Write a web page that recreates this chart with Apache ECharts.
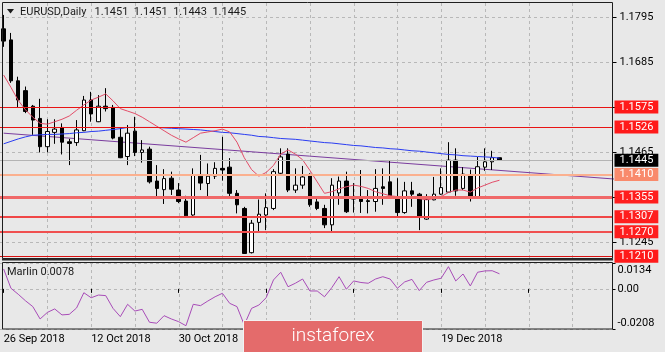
<!DOCTYPE html>
<html><head><meta charset="utf-8">
<script src="https://cdn.jsdelivr.net/npm/echarts@6/dist/echarts.min.js"></script>
<style>html,body{margin:0;padding:0;background:#e8e8e8;}#c{width:665px;height:352px;}</style>
</head><body><div id="c"></div>
<script>
// ---------- data ----------
const dates = ['26 Sep 2018','27 Sep 2018','28 Sep 2018','1 Oct 2018','2 Oct 2018','3 Oct 2018','4 Oct 2018','5 Oct 2018','8 Oct 2018','9 Oct 2018','10 Oct 2018','11 Oct 2018','12 Oct 2018','15 Oct 2018','16 Oct 2018','17 Oct 2018','18 Oct 2018','19 Oct 2018','22 Oct 2018','23 Oct 2018','24 Oct 2018','25 Oct 2018','26 Oct 2018','29 Oct 2018','30 Oct 2018','31 Oct 2018','1 Nov 2018','2 Nov 2018','5 Nov 2018','6 Nov 2018','7 Nov 2018','8 Nov 2018','9 Nov 2018','12 Nov 2018','13 Nov 2018','14 Nov 2018','15 Nov 2018','16 Nov 2018','19 Nov 2018','20 Nov 2018','21 Nov 2018','22 Nov 2018','23 Nov 2018','26 Nov 2018','27 Nov 2018','28 Nov 2018','29 Nov 2018','30 Nov 2018','3 Dec 2018','4 Dec 2018','5 Dec 2018','6 Dec 2018','7 Dec 2018','10 Dec 2018','11 Dec 2018','12 Dec 2018','13 Dec 2018','14 Dec 2018','17 Dec 2018','18 Dec 2018','19 Dec 2018','20 Dec 2018','21 Dec 2018','24 Dec 2018','26 Dec 2018','27 Dec 2018','28 Dec 2018','31 Dec 2018','2 Jan 2019'];
const futureSlots = 15;

const opens = [1.1766,1.1739,1.1639,1.1615,1.1577,1.1547,1.1478,1.1513,1.1525,1.1490,1.1488,1.1517,1.1592,1.1539,1.1577,1.1574,1.1501,1.1454,1.1516,1.1464,1.1472,1.1394,1.1373,1.1401,1.1372,1.1345,1.1311,1.1406,1.1388,1.1406,1.1425,1.1428,1.1364,1.1327,1.1219,1.1293,1.1311,1.1327,1.1413,1.1460,1.1372,1.1384,1.1408,1.1343,1.1327,1.1287,1.1365,1.1394,1.1350,1.1355,1.1346,1.1344,1.1380,1.1392,1.1354,1.1317,1.1370,1.1362,1.1301,1.1348,1.1362,1.1367,1.1445,1.1376,1.1410,1.1352,1.1428,1.1441,1.1451];
const highs = [1.1800,1.1756,1.1649,1.1625,1.1580,1.1595,1.1545,1.1545,1.1535,1.1497,1.1543,1.1602,1.1612,1.1604,1.1621,1.1580,1.1525,1.1531,1.1551,1.1494,1.1478,1.1433,1.1423,1.1417,1.1389,1.1358,1.1425,1.1458,1.1437,1.1440,1.1502,1.1450,1.1372,1.1331,1.1299,1.1349,1.1364,1.1423,1.1474,1.1474,1.1425,1.1431,1.1413,1.1352,1.1336,1.1401,1.1405,1.1417,1.1389,1.1421,1.1372,1.1423,1.1425,1.1445,1.1401,1.1392,1.1392,1.1365,1.1362,1.1404,1.1425,1.1489,1.1474,1.1428,1.1422,1.1453,1.1474,1.1468,1.1451];
const lows = [1.1722,1.1634,1.1574,1.1560,1.1507,1.1464,1.1464,1.1485,1.1459,1.1433,1.1480,1.1516,1.1539,1.1538,1.1564,1.1496,1.1450,1.1433,1.1455,1.1439,1.1388,1.1356,1.1338,1.1360,1.1340,1.1304,1.1309,1.1372,1.1354,1.1399,1.1395,1.1352,1.1315,1.1216,1.1217,1.1270,1.1274,1.1323,1.1409,1.1367,1.1365,1.1375,1.1331,1.1323,1.1279,1.1267,1.1336,1.1316,1.1317,1.1316,1.1315,1.1319,1.1336,1.1352,1.1307,1.1314,1.1331,1.1274,1.1299,1.1347,1.1360,1.1365,1.1358,1.1372,1.1344,1.1351,1.1419,1.1421,1.1443];
const closes = [1.1736,1.1639,1.1592,1.1564,1.1543,1.1478,1.1515,1.1521,1.1489,1.1486,1.1519,1.1592,1.1558,1.1577,1.1571,1.1499,1.1451,1.1511,1.1464,1.1470,1.1392,1.1376,1.1400,1.1374,1.1344,1.1309,1.1409,1.1389,1.1406,1.1425,1.1421,1.1364,1.1336,1.1217,1.1291,1.1313,1.1329,1.1417,1.1453,1.1372,1.1384,1.1404,1.1336,1.1327,1.1287,1.1384,1.1394,1.1319,1.1353,1.1344,1.1344,1.1376,1.1376,1.1354,1.1317,1.1370,1.1362,1.1305,1.1349,1.1362,1.1378,1.1445,1.1370,1.1411,1.1353,1.1429,1.1441,1.1451,1.1445];

const maRed = [1.1653,1.1623,1.1591,1.1568,1.1550,1.1535,1.1533,1.1539,1.1545,1.1553,1.1567,1.1580,1.1592,1.1599,1.1607,1.1590,1.1571,1.1565,1.1559,1.1550,1.1539,1.1528,1.1517,1.1506,1.1497,1.1489,1.1500,1.1511,1.1514,1.1517,1.1521,1.1514,1.1489,1.1451,1.1422,1.1406,1.1415,1.1432,1.1460,1.1470,1.1460,1.1446,1.1420,1.1392,1.1364,1.1368,1.1375,1.1380,1.1384,1.1381,1.1376,1.1368,1.1363,1.1358,1.1356,1.1356,1.1353,1.1351,1.1348,1.1351,1.1356,1.1366,1.1372,1.1372,1.1367,1.1377,1.1384,1.1391,1.1396];
const maBlue = [1.1485,1.1491,1.1497,1.1502,1.1506,1.1507,1.1508,1.1508,1.1509,1.1510,1.1512,1.1513,1.1515,1.1516,1.1518,1.1520,1.1522,1.1525,1.1525,1.1525,1.1525,1.1525,1.1524,1.1523,1.1522,1.1521,1.1520,1.1519,1.1517,1.1515,1.1513,1.1512,1.1510,1.1508,1.1506,1.1503,1.1502,1.1500,1.1498,1.1497,1.1496,1.1494,1.1492,1.1490,1.1488,1.1487,1.1485,1.1483,1.1481,1.1480,1.1478,1.1476,1.1475,1.1473,1.1472,1.1470,1.1468,1.1467,1.1465,1.1463,1.1461,1.1459,1.1458,1.1456,1.1455,1.1454,1.1453,1.1452,1.1450];

const trendIndex = [0, 84];
const trendValue = [1.1511, 1.13986];

const marlin = [0.0103,0.0003,-0.0028,-0.0062,-0.0092,-0.0156,-0.0122,-0.0104,-0.0135,-0.0132,-0.0099,-0.0020,-0.0046,-0.0032,-0.0035,-0.0101,-0.0144,-0.0080,-0.0115,-0.0106,-0.0173,-0.0178,-0.0139,-0.0156,-0.0170,-0.0191,-0.0080,-0.0087,-0.0063,-0.0041,-0.0023,-0.0075,-0.0092,-0.0187,-0.0101,-0.0084,-0.0046,0.0046,0.0086,0.0011,0.0029,0.0051,-0.0011,-0.0011,-0.0041,0.0006,0.0063,-0.0002,0.0041,0.0033,0.0029,0.0051,0.0063,0.0051,0.0003,0.0036,0.0049,-0.0009,0.0034,0.0046,0.0055,0.0115,0.0041,0.0077,0.0015,0.0086,0.0093,0.0094,0.0078];

const priceTicks = [1.1245, 1.1355, 1.1465, 1.1575, 1.1685, 1.1795];
const priceMin = 1.12035, priceMax = 1.18316;
const marlinTicks = [-0.0208, 0, 0.0134];
const levelValues = [1.1575, 1.1526, 1.1410, 1.1355, 1.1307, 1.1270, 1.1210];
const lastPrice = 1.1445;
const titleSymbol = 'EURUSD,Daily';
const titleVals = [1.1451, 1.1451, 1.1443, 1.1445];
const indicatorName = 'Marlin';
const watermarkText = 'instaforex';
const vGridEvery = 6;
const dateLabelEvery = 12;

// ---------- styles ----------
const FONT = 'Roboto';
const levelStyles = [
  {line:'#e81414', w:1, bg:'#ff1a1a'},
  {line:'#e81414', w:1, bg:'#ff1a1a'},
  {line:'#fbb08f', w:2, bg:'#f98a6c'},
  {line:'#f06868', w:3, bg:'#ff1e1e'},
  {line:'#f04646', w:2, bg:'#ff1e1e'},
  {line:'#f05050', w:2, bg:'#ff1e1e'},
  {line:'#d81010', w:1, bg:'#ff1a1a'}
];

const cats = dates.concat(new Array(futureSlots).fill(''));
const candleData = dates.map((d, i) => [opens[i], closes[i], lows[i], highs[i]]);
const trendData = trendIndex.map((x, i) => [x, trendValue[i]]);

function lvlLabel(bg) {
  return {show:true, position:'end', distance:2, formatter:p => Number(p.value).toFixed(4),
    color:'#fff', backgroundColor:bg, padding:[1,5,0,5], fontSize:11, lineHeight:12, fontFamily:FONT};
}
const markData = levelValues.map((v, i) => ({
  yAxis: v,
  lineStyle: {color: levelStyles[i].line, width: levelStyles[i].w, type:'solid'},
  label: lvlLabel(levelStyles[i].bg)
}));
markData.push({yAxis: lastPrice, lineStyle:{color:'#b4b4b4', width:1, type:'solid'}, label: lvlLabel('#000000')});

const gridLineStyle = {color:'#b8b8b8', width:1, type:[3,3]};

// vertical dashed grid positions (category indices); drawn crisp through the axis scale
const gridIdx = cats.map((c, i) => i).filter(i => i > 0 && i % vGridEvery === 0);
function vGridSeries(xi, yi, yRef) {
  return {type:'custom', xAxisIndex:xi, yAxisIndex:yi, silent:true, z:0, clip:false,
    data: gridIdx.map(() => yRef),
    renderItem: function (params, api) {
      const idx = gridIdx[params.dataIndex];
      const pt = api.coord([idx, yRef]);
      const x = Math.round(pt[0]) + 0.5;
      const cs = params.coordSys;
      return {type:'line', silent:true,
        shape:{x1:x, y1:cs.y + 1, x2:x, y2:cs.y + cs.height},
        style:{stroke:gridLineStyle.color, lineWidth:1, lineDash:[3,3]}};
    }
  };
}

const chart = echarts.init(document.getElementById('c'), null, {renderer:'canvas', width:665, height:352});
chart.setOption({
  animation:false,
  backgroundColor:'#e8e8e8',
  textStyle:{fontFamily:FONT},
  grid:[
    {left:-1, top:2, width:613.5, height:257},
    {left:-1, top:263, width:613.5, height:66}
  ],
  xAxis:[
    {type:'category', gridIndex:0, data:cats, boundaryGap:true,
     axisLine:{show:false}, axisTick:{show:false}, axisLabel:{show:false}, splitLine:{show:false}},
    {type:'category', gridIndex:1, data:cats, boundaryGap:true,
     axisLine:{show:false},
     axisTick:{show:true, alignWithLabel:true, interval:dateLabelEvery - 1, length:4, lineStyle:{color:'#000'}},
     axisLabel:{show:true, interval:dateLabelEvery - 1, align:'left', margin:5, fontSize:11, color:'#000', fontFamily:FONT, hideOverlap:false},
     splitLine:{show:false}}
  ],
  yAxis:[
    {type:'value', gridIndex:0, position:'right', min:priceMin, max:priceMax,
     axisLine:{show:false},
     axisTick:{show:true, customValues:priceTicks, length:4, lineStyle:{color:'#000'}},
     axisLabel:{show:true, customValues:priceTicks, formatter:v => v.toFixed(4), margin:7, fontSize:11, color:'#000', fontFamily:FONT},
     splitLine:{show:true, lineStyle:gridLineStyle}},
    {type:'value', gridIndex:1, position:'right', min:marlinTicks[0], max:marlinTicks[2],
     axisLine:{show:false},
     axisTick:{show:true, customValues:marlinTicks, length:3, lineStyle:{color:'#000'}},
     axisLabel:{show:true, customValues:marlinTicks, margin:5, fontSize:11, color:'#000', fontFamily:FONT,
       formatter:v => v === 0 ? '0.00' : (v > 0 ? '{t|' + v.toFixed(4) + '}' : '{b|' + v.toFixed(4) + '}'),
       rich:{t:{padding:[14,0,0,0], fontSize:11, color:'#000', fontFamily:FONT},
             b:{padding:[0,0,12,0], fontSize:11, color:'#000', fontFamily:FONT}}},
     splitLine:{show:true, lineStyle:gridLineStyle}}
  ],
  series:[
    vGridSeries(0, 0, priceTicks[0]),
    vGridSeries(1, 1, 0),
    {type:'line', name:'trend', xAxisIndex:0, yAxisIndex:0, data:trendData, symbol:'none', z:1,
     lineStyle:{color:'#7a3c9e', width:1}},
    {type:'candlestick', xAxisIndex:0, yAxisIndex:0, data:candleData, barWidth:4, z:2,
     itemStyle:{color:'#ffffff', color0:'#000000', borderColor:'#000000', borderColor0:'#000000', borderWidth:1},
     markLine:{silent:true, symbol:['none','none'], precision:4, z:5, data:markData}},
    {type:'line', name:'maBlue', xAxisIndex:0, yAxisIndex:0, data:maBlue, symbol:'none', z:3,
     lineStyle:{color:'#2a3cf2', width:1}},
    {type:'line', name:'maRed', xAxisIndex:0, yAxisIndex:0, data:maRed, symbol:'none', z:3,
     lineStyle:{color:'#e34d68', width:1}},
    {type:'line', name:'marlin', xAxisIndex:1, yAxisIndex:1, data:marlin, symbol:'none', z:3,
     lineStyle:{color:'#a84cb8', width:1}}
  ],
  graphic:[
    {type:'rect', z:50, silent:true, shape:{x:2.5, y:2.5, width:610, height:256}, style:{fill:'none', stroke:'#1e1e1e', lineWidth:1}},
    {type:'line', z:50, silent:true, shape:{x1:2, y1:259.5, x2:613, y2:259.5}, style:{stroke:'#2a2a2a', lineWidth:2}},
    {type:'rect', z:50, silent:true, shape:{x:2.5, y:262.5, width:610, height:66.5}, style:{fill:'none', stroke:'#1e1e1e', lineWidth:1}},
    {type:'polygon', z:50, silent:true, shape:{points:[[7,9],[14,9],[10.5,13.5]]}, style:{fill:'#1a1a1a'}},
    {type:'text', z:50, silent:true, x:20, y:12,
     style:{text: titleSymbol + '   ' + titleVals.map(v => v.toFixed(4)).join('  '), fill:'#1a1a1a', font:'11px ' + FONT, verticalAlign:'middle'}},
    {type:'text', z:50, silent:true, x:7, y:272,
     style:{text: indicatorName + ' ' + marlin[marlin.length-1].toFixed(4), fill:'#1a1a1a', font:'11px ' + FONT, verticalAlign:'middle'}},
    {type:'rect', z:100, silent:true, shape:{x:243.5, y:320.5, width:179, height:34}, style:{fill:'#e46b6b', stroke:'#f2f2f2', lineWidth:1}},
    {type:'text', z:101, silent:true, x:333, y:336,
     style:{text: watermarkText, fill:'#ffffff', font:'300 19px ' + FONT, align:'center', verticalAlign:'middle'}}
  ]
});
</script>
</body></html>
